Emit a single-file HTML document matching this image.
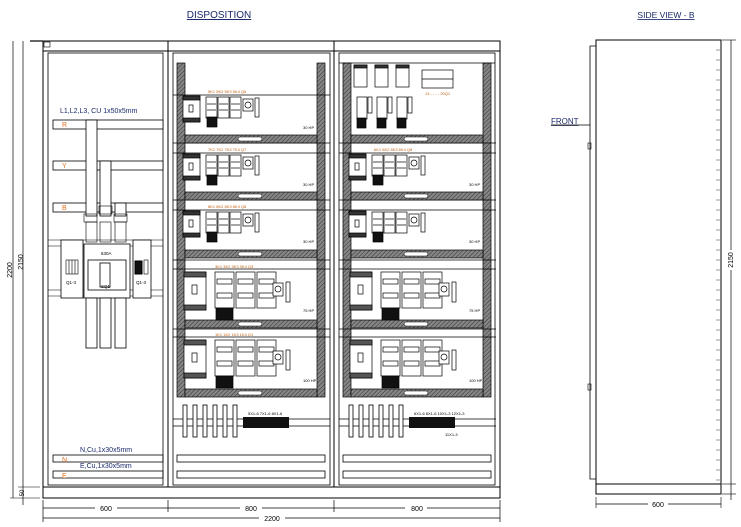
<!DOCTYPE html>
<html><head><meta charset="utf-8"><style>
html,body{margin:0;padding:0;background:#fff}
svg{display:block;font-family:"Liberation Sans",sans-serif}
</style></head><body>
<svg width="741" height="527" viewBox="0 0 741 527" xmlns="http://www.w3.org/2000/svg">
<defs>
<pattern id="h" width="3" height="3" patternUnits="userSpaceOnUse" patternTransform="rotate(45)">
<rect width="3" height="3" fill="#858585"/><line x1="0" y1="0" x2="0" y2="3" stroke="#333" stroke-width="1"/>
</pattern>
<g id="small" stroke="#000" stroke-width="0.7" fill="#fff">
<rect x="183" y="1" width="17" height="26"/><rect x="183" y="1" width="17" height="4" fill="#333"/>
<rect x="189" y="10" width="4" height="7"/><rect x="183" y="23" width="17" height="4" fill="#333"/>
<rect x="206" y="2" width="11" height="21"/><rect x="218" y="2" width="11" height="21"/><rect x="230" y="2" width="11" height="21"/>
<line x1="207" y1="9" x2="216" y2="9"/><line x1="219" y1="9" x2="228" y2="9"/><line x1="231" y1="9" x2="240" y2="9"/>
<line x1="207" y1="15" x2="216" y2="15"/><line x1="219" y1="15" x2="228" y2="15"/><line x1="231" y1="15" x2="240" y2="15"/>
<rect x="207" y="22" width="10" height="10" fill="#111"/>
<rect x="243" y="4" width="10" height="12"/><circle cx="248" cy="10" r="3"/>
<rect x="255" y="3" width="4" height="19"/>
</g>
<g id="big" stroke="#000" stroke-width="0.7" fill="#fff">
<rect x="184" y="3" width="22" height="38"/><rect x="184" y="3" width="22" height="5" fill="#555"/>
<rect x="192" y="16" width="5" height="9"/><rect x="184" y="36" width="22" height="5" fill="#555"/>
<rect x="215" y="3" width="19" height="36"/><rect x="236" y="3" width="19" height="36"/><rect x="257" y="3" width="19" height="36"/>
<rect x="217" y="10" width="15" height="5"/><rect x="238" y="10" width="15" height="5"/><rect x="259" y="10" width="15" height="5"/>
<rect x="217" y="24" width="15" height="5"/><rect x="238" y="24" width="15" height="5"/><rect x="259" y="24" width="15" height="5"/>
<rect x="216" y="39" width="17" height="12" fill="#111"/>
<rect x="273" y="14" width="10" height="13"/><circle cx="278" cy="20" r="3"/>
<rect x="286" y="13" width="4" height="20"/>
</g>
<g id="bar"><rect x="185" y="0" width="132" height="8" fill="url(#h)" stroke="#000" stroke-width="0.7"/><rect x="238" y="2" width="24" height="4" rx="2" fill="#fff" stroke="#000" stroke-width="0.5"/></g>
<g id="term" stroke="#000" stroke-width="0.8" fill="#fff">
<rect x="183" y="405" width="4" height="32"/><rect x="193" y="405" width="4" height="32"/><rect x="203" y="405" width="4" height="32"/><rect x="213" y="405" width="4" height="32"/><rect x="223" y="405" width="4" height="32"/><rect x="233" y="405" width="4" height="32"/>
</g>
</defs>

<g fill="none" stroke="#000">
<text x="219" y="18" font-size="10" fill="#1a2a6a" stroke="none" text-anchor="middle" text-decoration="underline">DISPOSITION</text>
<text x="666" y="18" font-size="8.5" fill="#1a2a6a" stroke="none" text-anchor="middle" text-decoration="underline">SIDE VIEW - B</text>

<rect x="43" y="41" width="457" height="457" stroke-width="1"/>
<line x1="43" y1="51" x2="500" y2="51"/>
<line x1="43" y1="487" x2="500" y2="487"/>
<line x1="168" y1="41" x2="168" y2="487"/><line x1="334" y1="41" x2="334" y2="487"/>
<line x1="30" y1="41" x2="43" y2="41" stroke-width="1.2"/>
<rect x="44" y="42" width="6" height="5" stroke-width="0.6"/>
<rect x="48" y="53" width="115" height="432" stroke-width="0.8"/>
<rect x="173" y="53" width="157" height="432" stroke-width="0.8"/>
<rect x="339" y="53" width="156" height="432" stroke-width="0.8"/>

<line x1="13" y1="41" x2="13" y2="498" stroke-width="0.7"/><line x1="23" y1="41" x2="23" y2="487" stroke-width="0.7"/>
<line x1="23" y1="487" x2="23" y2="505" stroke-width="0.7"/>
<line x1="10" y1="498" x2="40" y2="498" stroke-width="0.6"/><line x1="18" y1="487" x2="40" y2="487" stroke-width="0.6"/>
<text transform="translate(12,270) rotate(-90)" font-size="7" fill="#000" stroke="none" text-anchor="middle">2200</text>
<text transform="translate(23,262) rotate(-90)" font-size="7" fill="#000" stroke="none" text-anchor="middle">2150</text>
<text transform="translate(24,493) rotate(-90)" font-size="6" fill="#000" stroke="none" text-anchor="middle">50</text>

<line x1="43" y1="508" x2="500" y2="508" stroke-width="0.7"/><line x1="43" y1="518" x2="500" y2="518" stroke-width="0.7"/>
<line x1="43" y1="500" x2="43" y2="522" stroke-width="0.7"/><line x1="168" y1="500" x2="168" y2="512" stroke-width="0.7"/><line x1="334" y1="500" x2="334" y2="512" stroke-width="0.7"/><line x1="500" y1="500" x2="500" y2="522" stroke-width="0.7"/>
<rect x="95" y="504" width="22" height="8" fill="#fff" stroke="none"/><rect x="240" y="504" width="22" height="8" fill="#fff" stroke="none"/><rect x="405" y="504" width="22" height="8" fill="#fff" stroke="none"/><rect x="259" y="514" width="26" height="8" fill="#fff" stroke="none"/>
<g font-size="7" fill="#000" stroke="none" text-anchor="middle">
<text x="106" y="511">600</text><text x="251" y="511">800</text><text x="417" y="511">800</text><text x="272" y="521">2200</text></g>

<text x="60" y="113" font-size="7" fill="#1a2a6a" stroke="none">L1,L2,L3, CU 1x50x5mm</text>
<rect x="53" y="120" width="110" height="9" stroke-width="0.8" fill="#fff"/>
<rect x="53" y="161" width="110" height="9" stroke-width="0.8" fill="#fff"/>
<rect x="53" y="203" width="110" height="9" stroke-width="0.8" fill="#fff"/>
<g font-size="7" fill="#e07020" stroke="none"><text x="62" y="127">R</text><text x="62" y="168">Y</text><text x="62" y="210">B</text></g>
<rect x="86" y="120" width="11" height="96" fill="#fff" stroke-width="0.8"/>
<rect x="100" y="161" width="11" height="55" fill="#fff" stroke-width="0.8"/>
<rect x="115" y="203" width="11" height="13" fill="#fff" stroke-width="0.8"/>
<rect x="84" y="214" width="13" height="8" stroke-width="0.6"/><rect x="99" y="206" width="13" height="8" stroke-width="0.6"/><rect x="114" y="214" width="13" height="8" stroke-width="0.6"/>
<rect x="86" y="222" width="11" height="20" stroke-width="0.6"/><rect x="100" y="222" width="11" height="20" stroke-width="0.6"/><rect x="115" y="222" width="11" height="20" stroke-width="0.6"/>
<line x1="48" y1="240" x2="163" y2="240" stroke-width="0.6"/><line x1="48" y1="246" x2="163" y2="246" stroke-width="0.6"/>
<line x1="48" y1="290" x2="163" y2="290" stroke-width="0.6"/><line x1="48" y1="296" x2="163" y2="296" stroke-width="0.6"/>
<rect x="61" y="240" width="22" height="58" fill="#fff" stroke-width="0.8"/>
<rect x="84" y="244" width="46" height="54" fill="#fff" stroke-width="0.8"/>
<rect x="88" y="260" width="38" height="30" stroke-width="0.8"/><rect x="100" y="263" width="10" height="24" stroke-width="0.8"/>
<rect x="133" y="240" width="18" height="58" fill="#fff" stroke-width="0.8"/>
<rect x="135" y="261" width="7" height="13" fill="#111"/><rect x="144" y="260" width="4" height="14" stroke-width="0.6"/>
<rect x="66" y="260" width="12" height="14" stroke-width="0.6"/>
<line x1="69" y1="260" x2="69" y2="274" stroke-width="0.6"/><line x1="72" y1="260" x2="72" y2="274" stroke-width="0.6"/><line x1="75" y1="260" x2="75" y2="274" stroke-width="0.6"/>
<rect x="86" y="298" width="11" height="50" fill="#fff" stroke-width="0.8"/><rect x="100" y="298" width="11" height="50" fill="#fff" stroke-width="0.8"/><rect x="115" y="298" width="11" height="50" fill="#fff" stroke-width="0.8"/>
<g font-size="4.5" fill="#000" stroke="none"><text x="66" y="284">Q1-3</text><text x="101" y="255">630A</text><text x="101" y="288">SQ1</text><text x="136" y="284">Q1-3</text></g>
<text x="80" y="452" font-size="7" fill="#1a2a6a" stroke="none">N,Cu,1x30x5mm</text>
<text x="80" y="468" font-size="7" fill="#1a2a6a" stroke="none">E,Cu,1x30x5mm</text>
<rect x="53" y="455" width="110" height="7" stroke-width="0.8"/><rect x="53" y="471" width="110" height="7" stroke-width="0.8"/>
<g font-size="7" fill="#e07020" stroke="none"><text x="62" y="462">N</text><text x="62" y="478">E</text></g>

<g id="panelM">
<rect x="177" y="63" width="8" height="334" fill="url(#h)" stroke-width="0.7"/>
<rect x="317" y="63" width="8" height="334" fill="url(#h)" stroke-width="0.7"/>
<line x1="173" y1="143" x2="330" y2="143" stroke-width="0.7"/><line x1="173" y1="153" x2="330" y2="153" stroke-width="0.7"/>
<line x1="173" y1="200" x2="330" y2="200" stroke-width="0.7"/><line x1="173" y1="210" x2="330" y2="210" stroke-width="0.7"/>
<line x1="173" y1="260" x2="330" y2="260" stroke-width="0.7"/><line x1="173" y1="269" x2="330" y2="269" stroke-width="0.7"/>
<line x1="173" y1="329" x2="330" y2="329" stroke-width="0.7"/><line x1="173" y1="337" x2="330" y2="337" stroke-width="0.7"/>
<use href="#bar" y="135"/><use href="#bar" y="192"/><use href="#bar" y="250"/><use href="#bar" y="320"/><use href="#bar" y="389"/>
<use href="#small" y="153"/><use href="#small" y="210"/>
<use href="#big" y="269"/><use href="#big" y="337"/>
<line x1="173" y1="419" x2="330" y2="419" stroke-width="0.7"/><line x1="173" y1="426" x2="330" y2="426" stroke-width="0.7"/>
<use href="#term"/>
<rect x="243" y="417" width="46" height="11" fill="#111" stroke="none"/>
<rect x="177" y="455" width="148" height="7" stroke-width="0.8"/><rect x="177" y="471" width="148" height="7" stroke-width="0.8"/>
</g>
<line x1="173" y1="95" x2="330" y2="95" stroke-width="0.7"/>
<use href="#small" y="95"/>
<g transform="translate(166,0)"><use href="#panelM"/></g>

<line x1="339" y1="63" x2="495" y2="63" stroke-width="0.7"/>
<g stroke-width="0.7" fill="#fff">
<rect x="354" y="65" width="13" height="22"/><rect x="354" y="65" width="13" height="3" fill="#333"/>
<rect x="375" y="65" width="13" height="22"/><rect x="375" y="65" width="13" height="3" fill="#333"/>
<rect x="396" y="65" width="13" height="22"/><rect x="396" y="65" width="13" height="3" fill="#333"/>
<rect x="422" y="70" width="31" height="18"/><line x1="422" y1="79" x2="453" y2="79"/>
<rect x="357" y="97" width="10" height="22"/><rect x="368" y="97" width="4" height="16"/>
<rect x="377" y="97" width="10" height="22"/><rect x="388" y="97" width="4" height="16"/>
<rect x="397" y="97" width="10" height="22"/><rect x="408" y="97" width="4" height="16"/>
<rect x="357" y="118" width="9" height="10" fill="#111"/><rect x="377" y="118" width="9" height="10" fill="#111"/><rect x="397" y="118" width="9" height="10" fill="#111"/>
</g>

<g font-size="4" fill="#c06010" stroke="none">
<text x="208" y="93">5K1 5K2 5K3 5K4 Q6</text><text x="208" y="151">7K1 7K2 7K3 7K4 Q7</text><text x="208" y="208">8K1 8K2 8K3 8K4 Q8</text>
<text x="215" y="268">3K1 3K2 3K3 3K4 Q3</text><text x="215" y="336">1K1 1K2 1K3 1K4 Q1</text>
<text x="374" y="151">6K1 6K2 6K3 6K4 Q8</text><text x="425" y="95">13 - - - - 20Q1</text>
</g>
<g font-size="4" fill="#000" stroke="none">
<text x="248" y="415">5X1-6  7X1-6  8X1-6</text><text x="414" y="415">6X1-6  8X1-6  10X1-3  12X1-3</text><text x="445" y="436">11X1-3</text>
<text x="303" y="129">30 HP</text><text x="303" y="186">30 HP</text><text x="303" y="243">30 HP</text><text x="303" y="312">75 HP</text><text x="303" y="382">100 HP</text>
<text x="469" y="186">30 HP</text><text x="469" y="243">30 HP</text><text x="469" y="312">75 HP</text><text x="469" y="382">100 HP</text>
</g>

<rect x="596" y="40" width="125" height="444" stroke-width="1"/>
<rect x="596" y="484" width="125" height="10" stroke-width="1"/>
<polyline points="596,46 590,46 590,479 596,479" stroke-width="0.8"/>
<rect x="588" y="143" width="3" height="6" stroke-width="0.6"/><rect x="588" y="384" width="3" height="6" stroke-width="0.6"/>
<text x="551" y="124" font-size="8" fill="#1a2a6a" stroke="none" text-decoration="underline">FRONT</text>
<line x1="551" y1="125" x2="590" y2="125" stroke-width="0.7"/>
<line x1="731" y1="40" x2="731" y2="500" stroke-width="0.7"/>
<line x1="722" y1="40" x2="736" y2="40" stroke-width="0.6"/><line x1="722" y1="484" x2="736" y2="484" stroke-width="0.6"/><line x1="722" y1="494" x2="736" y2="494" stroke-width="0.6"/>
<rect x="727" y="250" width="8" height="20" fill="#fff" stroke="none"/>
<text transform="translate(733,260) rotate(-90)" font-size="7" fill="#000" stroke="none" text-anchor="middle">2150</text>
<line x1="596" y1="504" x2="721" y2="504" stroke-width="0.7"/><line x1="596" y1="497" x2="596" y2="508" stroke-width="0.6"/><line x1="721" y1="497" x2="721" y2="508" stroke-width="0.6"/>
<rect x="648" y="500" width="20" height="8" fill="#fff" stroke="none"/>
<text x="658" y="507" font-size="7" fill="#000" stroke="none" text-anchor="middle">600</text>
<g stroke="#777" stroke-width="0.8">
<path d="M716 50h4M716 60h4M716 70h4M716 80h4M716 90h4M716 100h4M716 110h4M716 120h4M716 130h4M716 140h4M716 150h4M716 160h4M716 170h4M716 180h4M716 190h4M716 200h4M716 210h4M716 220h4M716 230h4M716 240h4M716 250h4M716 260h4M716 270h4M716 280h4M716 290h4M716 300h4M716 310h4M716 320h4M716 330h4M716 340h4M716 350h4M716 360h4M716 370h4M716 380h4M716 390h4M716 400h4M716 410h4M716 420h4M716 430h4M716 440h4M716 450h4M716 460h4M716 470h4M716 480h4"/>
</g>
</g>
</svg>
</body></html>
